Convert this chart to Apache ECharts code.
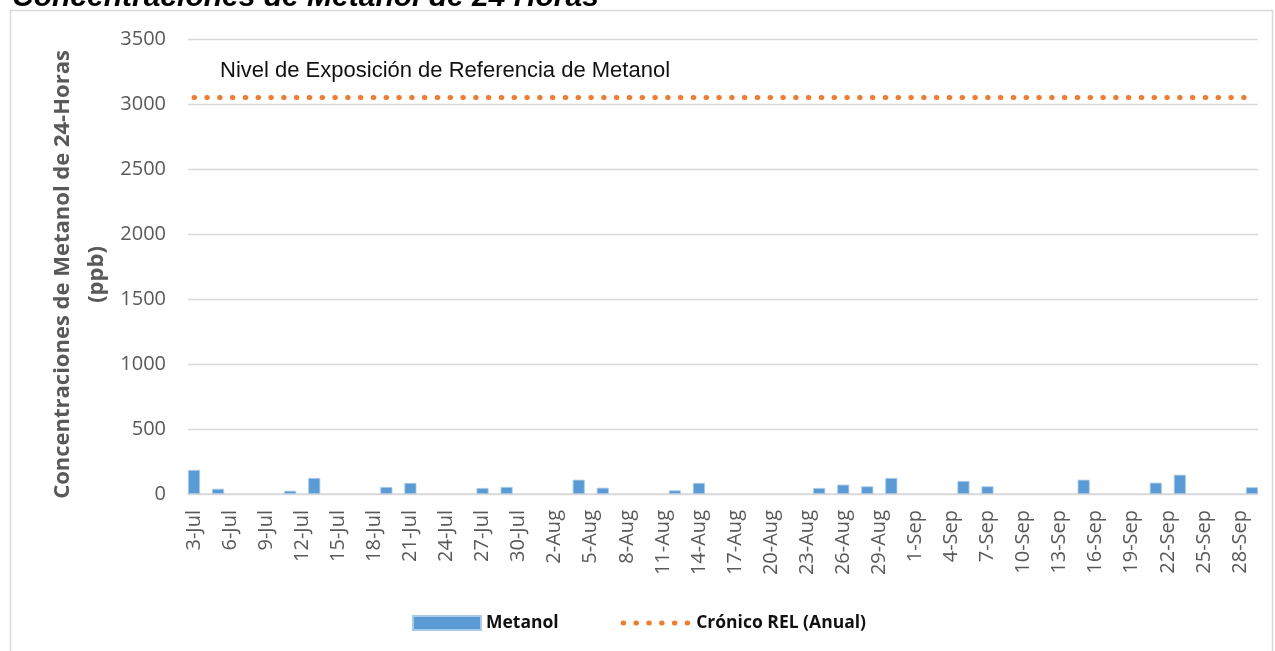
<!DOCTYPE html>
<html>
<head>
<meta charset="utf-8">
<title>Concentraciones de Metanol de 24 Horas</title>
<script src="https://cdn.jsdelivr.net/npm/echarts@6/dist/echarts.min.js"></script>
<style>
  html, body { margin: 0; padding: 0; background: #fff; }
  #chart { width: 1275px; height: 651px; }
</style>
</head>
<body>
<div id="chart"></div>
<script>
// daily category axis, 3-Jul .. 29-Sep
const months = [['Jul', 3, 31], ['Aug', 1, 31], ['Sep', 1, 29]]
const days = []
months.forEach(([m, from, to]) => {
  for (let d = from; d <= to; d++) days.push(d + '-' + m)
})

// sampled days and 24-hour methanol (ppb)
const metanolDates = ['3-Jul', '5-Jul', '11-Jul', '13-Jul', '19-Jul', '21-Jul', '27-Jul', '29-Jul',
  '4-Aug', '6-Aug', '12-Aug', '14-Aug', '24-Aug', '26-Aug', '28-Aug', '30-Aug',
  '5-Sep', '7-Sep', '15-Sep', '21-Sep', '23-Sep', '29-Sep']
const metanolValues = [185, 40, 25, 123, 54, 85, 46, 54,
  110, 48, 28, 85, 46, 72, 59, 123,
  100, 59, 110, 87, 148, 52]

// chronic REL reference level
const relLevel = 3050
const relLine = [[days[0], relLevel], [days[days.length - 1], relLevel]]

const yTicks = { min: 0, max: 3500, interval: 500 }

const grey = '#595959'
const gridGrey = '#d9d9d9'
const orange = '#ed7d31'
const dotted = { color: orange, width: 5, type: [0.5, 12.3], cap: 'round' }

const chart = echarts.init(document.getElementById('chart'))

chart.setOption({
  backgroundColor: '#fff',
  animation: false,
  graphic: [
    {
      type: 'rect',
      shape: { x: 10.5, y: 10.5, width: 1262, height: 700 },
      style: { fill: 'none', stroke: gridGrey, lineWidth: 1.5 },
      silent: true
    },
    {
      type: 'text',
      x: 12, y: -2,
      style: {
        text: 'Concentraciones de Metanol de 24 Horas',
        font: 'italic bold 30px "Liberation Sans", Arial, sans-serif',
        fill: '#000', verticalAlign: 'middle'
      },
      silent: true
    },
    {
      type: 'text',
      x: 220, y: 71,
      style: {
        text: 'Nivel de Exposición de Referencia de Metanol',
        font: '22px "Liberation Sans", Arial, sans-serif',
        fill: '#111', verticalAlign: 'middle'
      },
      silent: true
    }
  ],
  grid: { left: 188, right: 17, top: 39, bottom: 157 },
  legend: {
    left: 407, top: 609,
    itemWidth: 68, itemHeight: 14, itemGap: 62,
    textStyle: { fontFamily: 'Open Sans', fontWeight: 'bold', fontSize: 17.5, color: '#111' },
    data: [
      { name: 'Metanol', icon: 'rect' },
      { name: 'Crónico REL (Anual)', itemStyle: { opacity: 0 }, lineStyle: dotted }
    ]
  },
  xAxis: {
    type: 'category',
    data: days,
    boundaryGap: true,
    axisLine: { lineStyle: { color: gridGrey, width: 1.5 } },
    axisTick: { show: false },
    axisLabel: {
      interval: 2, rotate: 90, margin: 16,
      fontFamily: 'Open Sans', fontSize: 20, color: grey
    },
    splitLine: { show: false }
  },
  yAxis: {
    type: 'value',
    min: yTicks.min, max: yTicks.max, interval: yTicks.interval,
    name: 'Concentraciones de Metanol de 24-Horas\n(ppb)',
    nameLocation: 'middle',
    nameGap: 74,
    nameMoveOverlap: false,
    nameTextStyle: {
      fontFamily: 'Open Sans', fontWeight: 'bold', fontSize: 22,
      lineHeight: 34, color: grey, align: 'center',
      padding: [0, 16, 0, 0]
    },
    axisLine: { show: false },
    axisTick: { show: false },
    axisLabel: {
      margin: 22, fontFamily: 'Open Sans', fontSize: 20, color: grey,
      formatter: v => String(v)
    },
    splitLine: { lineStyle: { color: gridGrey, width: 1.3 } }
  },
  series: [
    {
      name: 'Metanol',
      type: 'bar',
      barCategoryGap: '0%',
      data: metanolDates.map((d, i) => [d, metanolValues[i]]),
      itemStyle: { color: '#5b9bd5', borderColor: '#a9cbe9', borderWidth: 0.8 }
    },
    {
      name: 'Crónico REL (Anual)',
      type: 'line',
      data: relLine,
      symbol: 'none',
      itemStyle: { color: orange },
      lineStyle: dotted
    }
  ]
})

window.addEventListener('resize', () => chart.resize())
</script>
</body>
</html>
